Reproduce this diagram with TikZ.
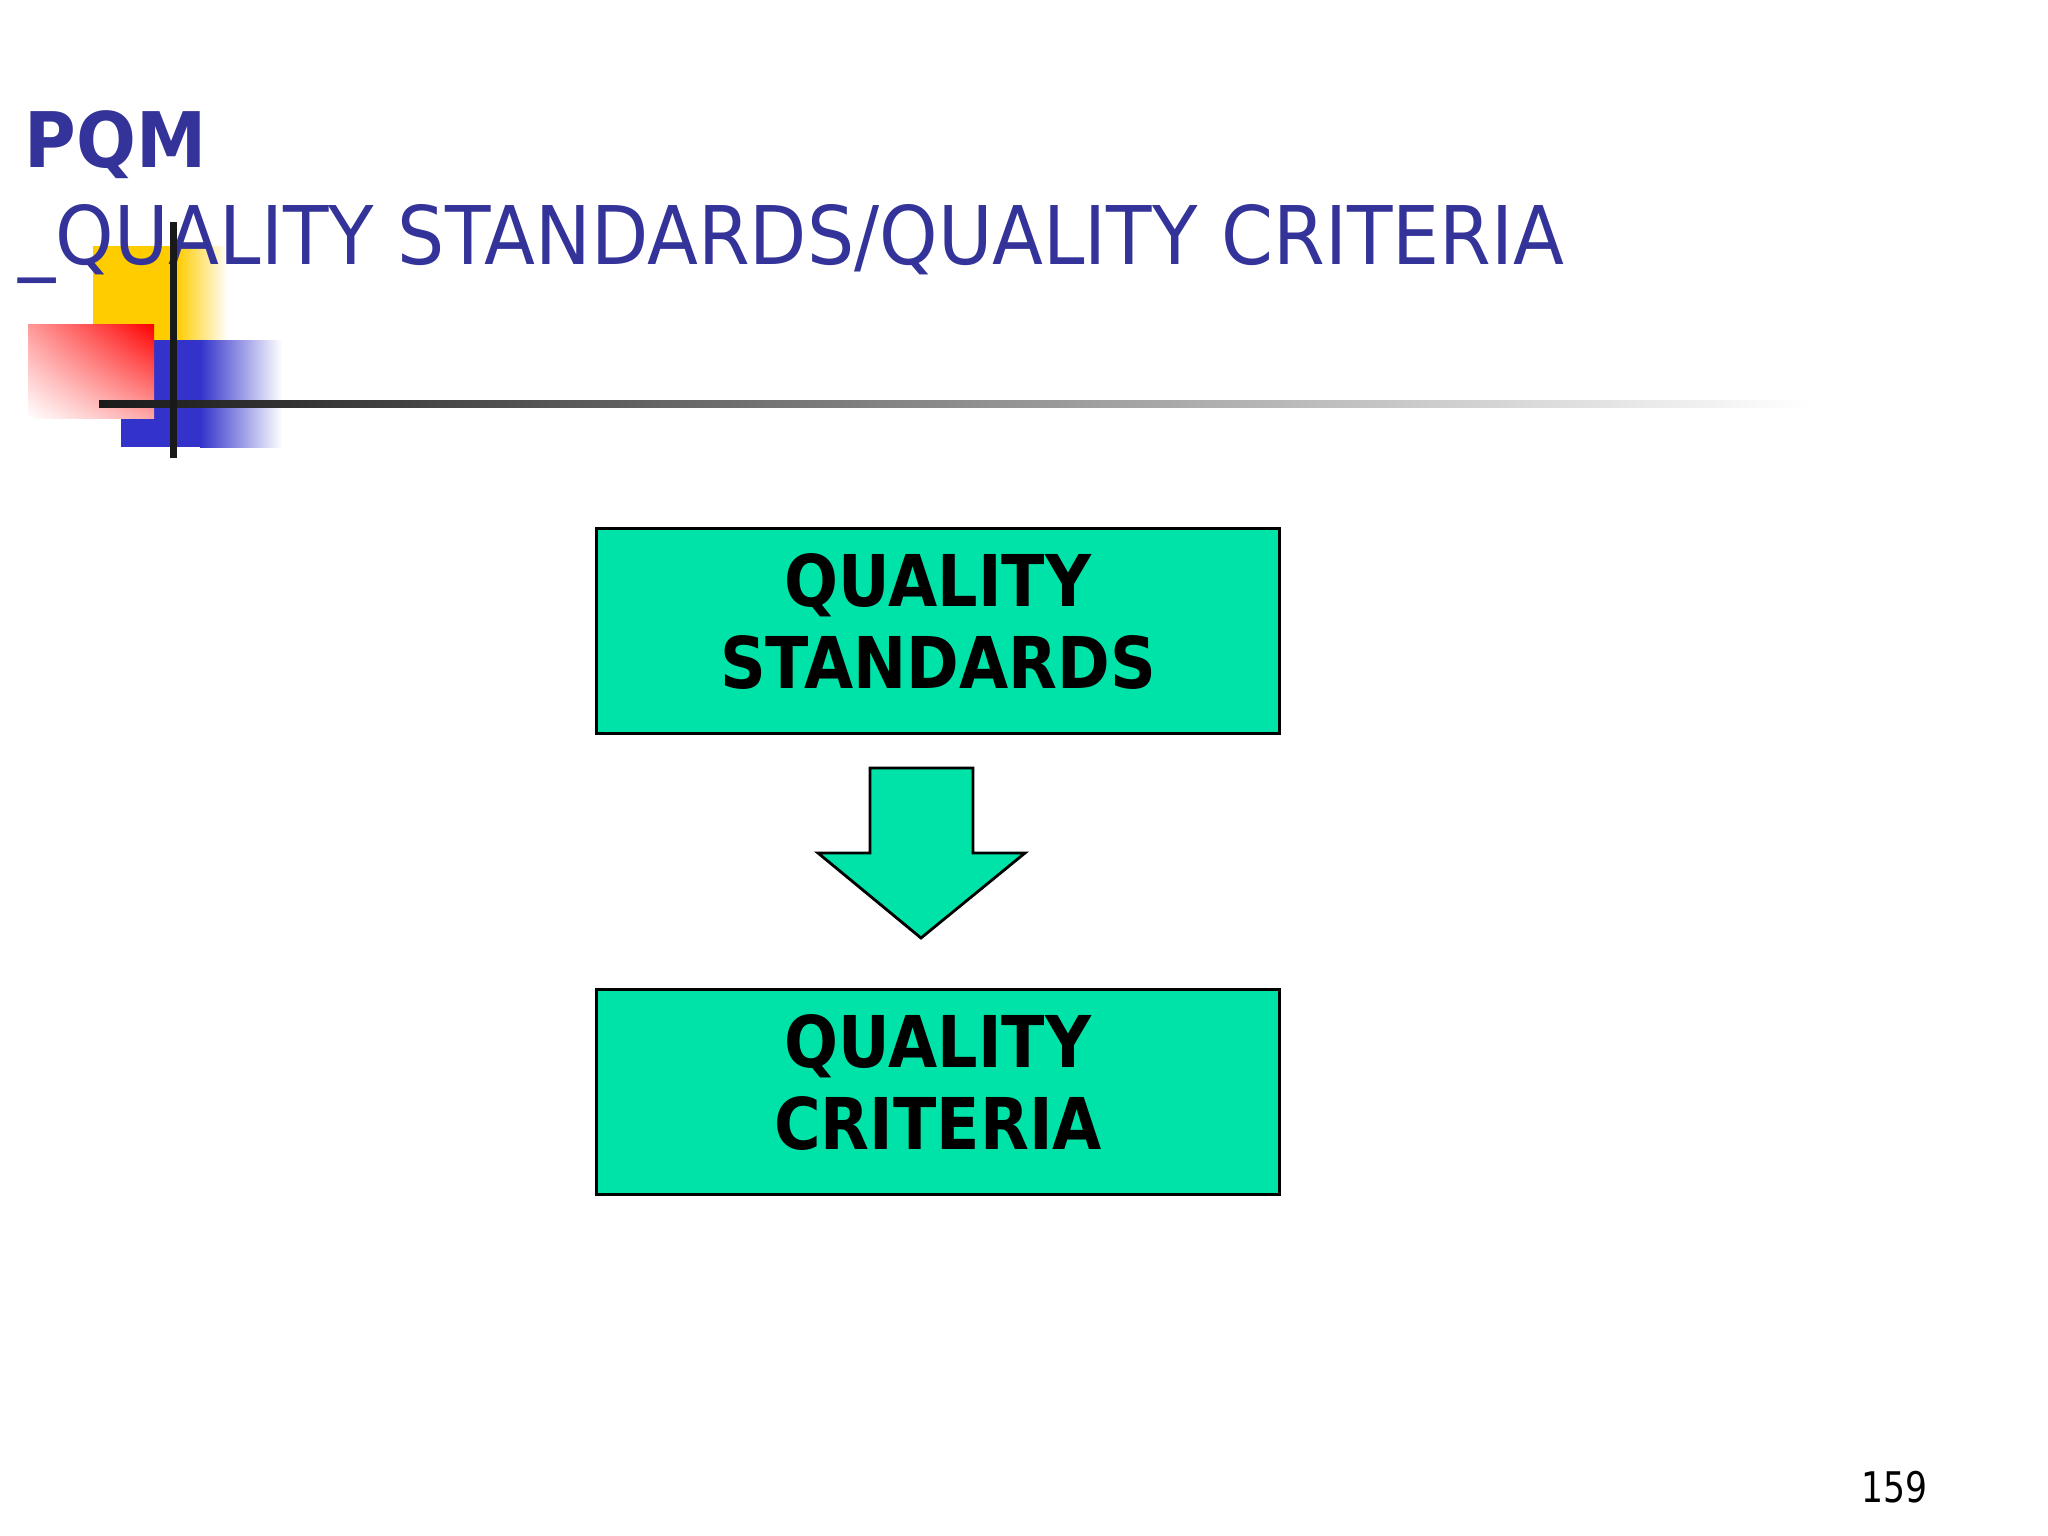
\documentclass[tikz,border=0pt]{standalone}
\usepackage{fontspec}
\setmainfont{DejaVu Sans}
\newfontfamily\slidefont{DejaVu Sans}[FakeStretch=0.92]
\newfontfamily\boxfont{DejaVu Sans}[FakeStretch=0.89]
\newfontfamily\numfont{DejaVu Sans}[FakeStretch=0.82]
\usetikzlibrary{positioning, shadings}

\definecolor{titleblue}{RGB}{51,51,153}
\definecolor{boxgreen}{RGB}{0,227,168}
\definecolor{decoyellow}{RGB}{255,204,0}
\definecolor{decoblue}{RGB}{51,51,204}
\definecolor{decored}{RGB}{255,0,0}

% two centred lines
\newcommand\boxlines[1]{\begin{tabular}{@{}c@{}}#1\end{tabular}}

\begin{document}
\begin{tikzpicture}[
  x=0.01cm, y=-0.01cm,
  headline/.style={anchor=base west, inner sep=0pt, text=titleblue},
  qualitybox/.style={rectangle, draw=black, line width=0.8pt, fill=boxgreen,
    minimum width=6.83cm, minimum height=2.05cm,
    font=\boxfont\bfseries\fontsize{20.3}{23.4}\selectfont},
  blockarrow/.style={draw=black, line width=0.8pt, fill=boxgreen, line join=miter}
]
  \useasboundingbox[fill=white] (0,0) rectangle (2048,1536);

  % corner decoration
  \fill[decoyellow] (93,246) rectangle (177,340);
  \shade[left color=decoyellow, right color=white] (177,246) rectangle (228,340);
  \fill[decoblue] (121,340) rectangle (200,447);
  \shade[left color=decoblue, right color=white] (200,340) rectangle (282,447);
  \shade[upper right=decored, upper left=decored!40, lower right=decored!35,
    lower left=white] (28,324) rectangle (154,418);

  \node[headline, font=\slidefont\bfseries\fontsize{21.8}{26}\selectfont]
    (title) at (24,167) {PQM};
  \node[headline, font=\slidefont\fontsize{23}{28}\selectfont]
    (subtitle) at (18,264) {\_QUALITY STANDARDS/QUALITY CRITERIA};

  \shade[left color=black!90, right color=white] (99,400) rectangle (1810,407);
  \fill[black!90] (170,222) rectangle (177,458);

  % flow
  \node[qualitybox] (standards) at (938,631) {\boxlines{QUALITY\\STANDARDS}};
  \node[qualitybox] (criteria) at (938,1092) {\boxlines{QUALITY\\CRITERIA}};

  \draw[blockarrow] (870,768) -- (973,768) -- (973,853) -- (1025,853)
    -- (921,938) -- (818,853) -- (870,853) -- cycle;

  \node[anchor=base west, inner sep=0pt, font=\numfont\fontsize{12}{14}\selectfont]
    (pagenum) at (1861,1502) {159};
\end{tikzpicture}
\end{document}
